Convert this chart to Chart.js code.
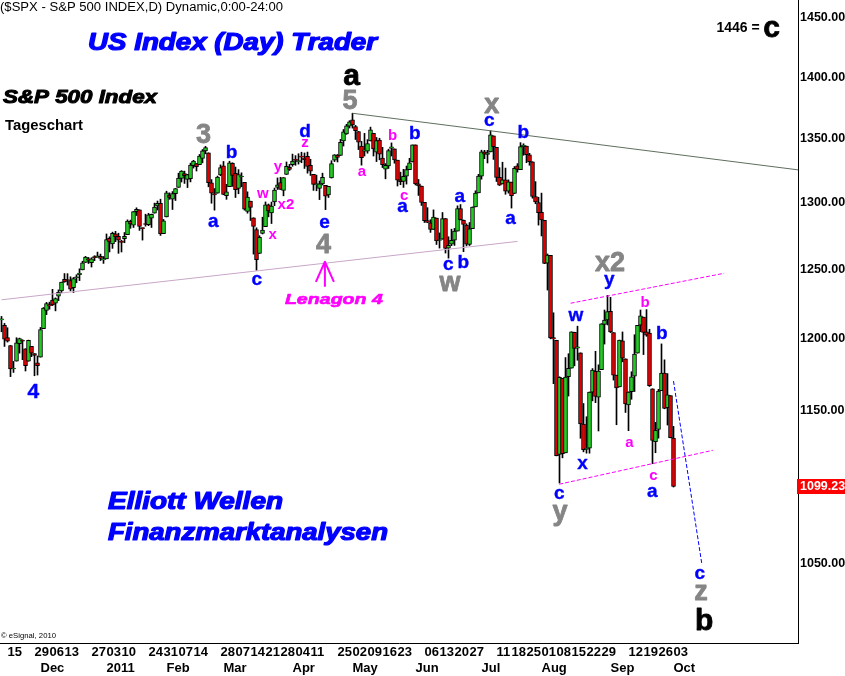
<!DOCTYPE html>
<html>
<head>
<meta charset="utf-8">
<title>S&amp;P 500 Index - Elliott Wellen</title>
<script src="https://cdn.jsdelivr.net/npm/chart.js@4.4.1/dist/chart.umd.min.js"></script>
<style>
  html, body { margin: 0; padding: 0; background: #ffffff; }
  canvas { display: block; }
</style>
</head>
<body>
<canvas id="chart" width="845" height="676"></canvas>
<script>
// S&P 500 daily candles, one entry per trading day (11 Nov 2010 - 3 Oct 2011)
const opens = [
  1213.0,1209.1,1200.4,1194.8,1178.3,1183.8,1196.1,1198.1,1192.5,1183.7,1194.2,1189.1,1182.6,
  1186.6,1206.8,1219.9,1223.9,1227.3,1225.0,1230.1,1233.9,1242.5,1241.8,1241.6,1236.3,1243.6,1245.8,1249.4,1254.9,1257.5,1254.7,1259.1,1258.8,1259.4,1256.8,
  1257.6,1272.9,1268.8,1276.3,1274.4,1270.8,1272.6,1275.7,1285.8,1282.9,1293.2,1294.5,1280.9,1283.6,1283.3,1288.2,1292.0,1297.5,1299.6,1276.5,
  1289.1,1305.9,1302.8,1307.0,1311.9,1318.8,1322.5,1318.1,1318.7,1328.7,1330.4,1329.5,1334.4,1340.4,1338.9,1315.4,1307.1,1307.3,1321.6,
  1328.6,1305.5,1312.4,1330.7,1322.7,1311.1,1319.9,1315.7,1293.4,1301.2,1288.5,1279.5,1261.6,1276.7,1281.7,1298.3,1292.2,1300.6,1311.8,1315.5,1309.4,1321.9,1327.4,
  1329.5,1333.6,1332.0,1335.9,1334.8,1336.2,1329.0,1322.0,1314.0,1311.1,1314.5,1313.4,1306.0,1319.1,1333.2,1337.1,1336.8,1348.4,1353.9,1360.1,
  1365.2,1359.8,1355.9,1344.2,1340.2,1340.2,1348.3,1354.5,1339.4,1349.0,1334.8,1326.1,1328.5,1342.4,1342.0,1333.1,1317.7,1316.4,1320.6,1325.7,1331.7,
  1345.2,1314.6,1312.9,1300.3,1286.3,1284.6,1279.6,1288.3,1271.3,1272.2,1287.9,1265.5,1268.6,1271.5,1278.4,1295.5,1286.6,1283.0,1268.4,1280.2,1296.8,1307.6,
  1320.6,1339.6,1337.6,1339.6,1352.4,1343.3,1319.6,1314.5,1317.7,1308.9,1315.9,1307.1,1328.7,1325.7,1343.8,1344.3,1337.4,1331.9,1304.8,1300.1,
  1292.6,1286.6,1254.3,1260.2,1200.3,1198.5,1120.2,1171.8,1121.3,1172.9,1178.9,1204.2,1192.9,1189.6,1140.5,1123.6,1124.4,1162.2,1176.7,1158.9,1177.9,1209.8,1213.0,
  1219.1,1203.9,1174.0,1165.9,1198.0,1185.4,1153.5,1162.6,1173.3,1189.4,1209.2,1215.0,1204.5,1203.6,1164.6,1128.8,1136.9,1163.3,1175.4,1151.7,1159.9,
  1131.2
];
const highs = [
  1215.5,1210.5,1207.4,1194.8,1183.6,1200.3,1200.0,1198.9,1192.5,1198.6,1194.2,1189.1,1187.4,
  1207.6,1221.9,1225.6,1225.8,1235.1,1228.9,1234.7,1240.4,1246.7,1246.6,1244.3,1243.8,1245.8,1250.2,1255.8,1259.4,1258.6,1258.4,1259.9,1262.6,1261.1,1259.3,
  1276.2,1274.1,1277.6,1278.2,1276.8,1271.5,1277.3,1286.9,1286.7,1293.2,1296.1,1294.6,1280.9,1291.2,1291.9,1291.3,1299.7,1301.3,1302.7,1287.2,
  1308.9,1307.6,1308.6,1311.0,1322.9,1324.9,1324.5,1322.0,1330.8,1333.0,1330.4,1337.6,1341.5,1344.1,1338.9,1317.9,1310.9,1320.6,1329.4,
  1332.1,1314.2,1332.3,1331.1,1327.7,1325.7,1323.2,1315.7,1308.4,1301.2,1288.5,1280.9,1274.9,1288.9,1300.6,1299.0,1300.5,1311.3,1319.2,1319.7,1319.4,1331.7,1329.8,
  1337.9,1336.7,1338.2,1339.4,1338.8,1339.5,1333.8,1322.0,1321.4,1316.8,1322.9,1313.4,1312.7,1332.7,1337.5,1337.6,1349.6,1357.5,1361.7,1364.6,
  1370.6,1360.8,1355.9,1348.0,1354.4,1349.4,1359.4,1354.5,1351.1,1350.5,1343.3,1330.4,1341.8,1346.8,1342.0,1333.1,1323.7,1325.9,1328.5,1334.6,1345.2,
  1345.2,1318.0,1312.9,1300.3,1296.2,1287.0,1294.5,1288.3,1277.0,1292.5,1287.9,1274.1,1279.8,1280.4,1297.6,1298.6,1286.8,1283.9,1284.9,1296.8,1309.2,1322.0,
  1341.0,1340.9,1340.9,1356.5,1352.4,1343.3,1327.2,1331.5,1326.9,1317.7,1315.9,1328.1,1330.4,1347.0,1346.1,1344.3,1338.5,1331.9,1316.3,1304.2,
  1307.4,1286.6,1261.2,1260.2,1218.1,1198.5,1172.9,1171.8,1186.3,1189.0,1204.5,1204.2,1208.5,1189.6,1154.5,1145.5,1162.4,1178.6,1190.7,1181.2,1210.3,1220.1,1230.7,
  1229.3,1203.9,1174.0,1198.6,1204.4,1185.4,1162.5,1176.4,1202.4,1209.1,1220.1,1215.0,1220.4,1206.3,1164.6,1141.7,1164.2,1195.9,1184.7,1175.1,1159.9,
  1139.0
];
const lows = [
  1204.5,1194.1,1197.2,1173.0,1175.9,1183.8,1189.4,1184.8,1176.9,1183.7,1186.9,1173.6,1174.1,
  1186.6,1206.8,1216.8,1220.7,1223.3,1219.5,1226.9,1232.6,1240.3,1238.2,1234.0,1232.8,1239.9,1241.5,1249.4,1254.9,1254.1,1251.5,1256.2,1258.8,1256.3,1254.2,
  1257.6,1262.7,1265.4,1270.4,1261.7,1262.7,1269.6,1275.7,1280.5,1281.1,1290.2,1278.9,1271.6,1282.1,1282.5,1281.1,1292.0,1294.4,1275.1,1276.5,
  1289.1,1302.6,1294.8,1301.7,1311.9,1316.0,1314.9,1311.7,1316.1,1326.9,1324.6,1329.5,1331.0,1338.1,1312.3,1299.6,1294.3,1307.3,1320.9,
  1306.1,1302.6,1312.4,1312.6,1304.0,1306.9,1312.3,1294.3,1292.0,1286.4,1261.1,1249.1,1261.6,1276.2,1281.7,1289.2,1284.1,1297.7,1310.2,1310.2,1305.3,1321.9,1325.0,
  1328.3,1329.1,1330.0,1331.1,1326.6,1322.9,1321.1,1309.5,1309.2,1302.4,1313.7,1294.7,1304.0,1319.1,1332.0,1331.7,1336.8,1344.3,1353.6,1358.7,
  1358.6,1349.5,1341.5,1329.2,1336.4,1338.6,1348.3,1336.4,1332.0,1333.4,1327.3,1318.5,1326.6,1336.4,1330.7,1312.9,1313.9,1311.8,1314.4,1325.7,1331.7,
  1313.7,1305.6,1297.9,1284.9,1284.7,1277.4,1279.6,1268.3,1265.6,1272.2,1261.9,1258.1,1267.4,1267.6,1278.4,1286.8,1262.9,1267.2,1267.5,1280.2,1296.8,1307.6,
  1318.2,1334.3,1330.9,1339.6,1333.7,1316.4,1313.3,1314.5,1306.5,1307.4,1295.9,1307.1,1323.7,1325.7,1337.0,1331.1,1329.1,1303.5,1299.2,1282.9,
  1274.7,1254.0,1234.6,1199.5,1168.1,1119.3,1101.5,1118.0,1121.3,1159.6,1178.9,1180.5,1184.4,1131.0,1122.0,1121.1,1121.1,1156.3,1155.1,1135.9,1177.9,1195.8,1209.4,
  1203.9,1170.6,1140.1,1165.9,1183.3,1148.4,1136.1,1157.4,1162.7,1189.4,1204.5,1188.4,1201.3,1166.2,1114.2,1121.4,1131.1,1163.3,1150.9,1139.9,1131.3,
  1098.9
];
const closes = [
  1213.5,1199.2,1197.8,1178.3,1178.6,1196.7,1199.7,1197.8,1180.7,1198.4,1189.4,1187.8,1180.6,
  1206.1,1221.5,1224.7,1223.1,1223.8,1228.3,1233.0,1240.4,1240.5,1241.6,1235.2,1242.9,1243.9,1247.1,1254.6,1258.8,1256.8,1257.5,1258.5,1259.8,1257.9,1257.6,
  1271.9,1270.2,1276.6,1273.9,1271.5,1269.8,1274.5,1286.0,1283.8,1293.2,1295.0,1281.9,1280.3,1283.4,1290.8,1291.2,1296.6,1299.5,1276.3,1286.1,
  1307.6,1304.0,1307.1,1310.9,1319.1,1324.6,1320.9,1321.9,1329.2,1332.3,1328.0,1336.3,1340.4,1343.0,1315.4,1307.4,1306.1,1319.9,1327.2,
  1306.3,1308.4,1331.0,1321.2,1310.1,1321.8,1320.0,1295.1,1304.3,1296.4,1281.9,1256.9,1273.7,1279.2,1298.4,1293.8,1297.5,1309.7,1313.8,1310.2,1319.4,1328.3,1325.8,
  1332.4,1332.9,1332.6,1335.5,1333.5,1328.2,1324.5,1314.2,1314.4,1314.5,1319.7,1305.1,1312.6,1330.4,1337.4,1335.3,1347.2,1355.7,1360.5,1363.6,
  1361.2,1356.6,1347.3,1335.1,1340.2,1346.3,1357.2,1342.1,1348.7,1337.8,1329.5,1329.0,1340.7,1343.6,1333.3,1317.4,1316.3,1320.5,1325.7,1331.1,1345.2,
  1314.6,1312.9,1300.2,1286.2,1284.9,1279.6,1289.0,1271.0,1271.8,1287.9,1265.4,1267.6,1271.5,1278.4,1295.5,1287.1,1283.5,1268.5,1280.1,1296.7,1307.4,1320.6,
  1339.7,1337.9,1339.2,1353.2,1343.8,1319.5,1313.6,1317.7,1308.9,1316.1,1305.4,1326.7,1325.8,1343.8,1345.0,1337.4,1331.9,1304.9,1300.7,1292.3,
  1286.9,1254.1,1260.3,1200.1,1199.4,1119.5,1172.5,1120.8,1172.6,1178.8,1204.5,1192.8,1193.9,1140.6,1123.5,1123.8,1162.4,1177.6,1159.3,1176.8,1210.1,1212.9,1218.9,
  1204.4,1174.0,1165.2,1198.6,1185.9,1154.2,1162.3,1172.9,1188.7,1209.1,1216.0,1204.1,1202.1,1166.8,1129.6,1136.4,1163.0,1175.4,1151.1,1160.4,1131.4,
  1099.23
];

// x axis: trading-day index of the weekly and monthly labels
const weekTicks = [
  [2,'15'],[11,'29'],[16,'06'],[21,'13'],[30,'27'],[35,'03'],[40,'10'],[49,'24'],[54,'31'],[59,'07'],[64,'14'],
  [73,'28'],[78,'07'],[83,'14'],[88,'21'],[93,'28'],[98,'04'],[103,'11'],[112,'25'],[117,'02'],[122,'09'],[127,'16'],[132,'23'],
  [141,'06'],[146,'13'],[151,'20'],[156,'27'],[165,'11'],[170,'18'],[175,'25'],[180,'01'],[185,'08'],[190,'15'],[195,'22'],[200,'29'],
  [209,'12'],[214,'19'],[219,'26'],[224,'03']
];
const monthTicks = [
  [13,'Dec'],[35,'2011'],[55,'Feb'],[74,'Mar'],[97,'Apr'],[117,'May'],[138,'Jun'],[160,'Jul'],[180,'Aug'],[203,'Sep'],[224,'Oct']
];
const priceTicks = [1050, 1150, 1200, 1250, 1300, 1350, 1400, 1450];
const totalSlots = 266;   // visible trading-day slots incl. empty space on the right

// trend lines: [day index, price]
const upperTrend = [[117, 1370.6], [265.5, 1325.5]];
const lowerTrend = [[0, 1227.5], [172, 1270.6]];
const channelTop = [[189.7, 1225.0], [240.9, 1246.9]];
const channelBottom = [[185.9, 1100.7], [237.1, 1123.0]];
const targetLine = [[224, 1169.9], [233.5, 1049.4]];

// Elliott wave labels: [text, day index, price]
const blackLabels = [['a', 116.7, 1400.5], ['b', 234.2, 1016.7], ['c', 256.7, 1440.3]];
const grayLabels = [
  ['5', 116.2, 1381.4], ['3', 67.3, 1354.4], ['4', 107.3, 1269.1], ['x', 163.4, 1376.5],
  ['w', 149.5, 1239.5], ['x2', 202.8, 1255.4], ['y', 186.2, 1080.8], ['z', 233.2, 1032.2]
];
const blueLabels = [
  ['b', 76.7, 1339.8], ['a', 70.6, 1285.4], ['d', 101.2, 1356.5], ['c', 85.1, 1241.9], ['e', 107.7, 1284.2],
  ['b', 137.8, 1354.9], ['a', 133.7, 1296.4], ['c', 162.6, 1364.6], ['b', 173.9, 1355.5], ['a', 152.8, 1304.6],
  ['a', 169.7, 1287.3], ['c', 148.9, 1253.0], ['b', 153.9, 1255.4], ['y', 202.6, 1240.6], ['w', 191.5, 1215.7],
  ['b', 220.1, 1203.8], ['x', 193.7, 1113.8], ['a', 216.9, 1095.4], ['c', 185.9, 1094.3], ['c', 232.8, 1043.7]
];
const blueBigLabels = [['4', 10.6, 1163.2]];
const magentaLabels = [
  ['z', 101.2, 1346.4], ['y', 92.1, 1326.7], ['w', 87.1, 1306.4], ['x2', 94.8, 1298.7], ['x', 90.4, 1275.4],
  ['a', 120.1, 1324.0], ['b', 130.4, 1353.1], ['c', 134.2, 1305.1], ['b', 214.5, 1226.0], ['a', 209.3, 1128.0],
  ['c', 217.3, 1106.2]
];
const noteLabels = [['1446 =', 245.5, 1442.0]];
const lenagon = { text: 'Lenagon 4', day: 110.8, price: 1227.3, tip: 1255.4, foot: 1237.0, head: 1240.6, day0: 107.8, spread: 3 };

const FONT = '"Liberation Sans", Arial, Helvetica, sans-serif';
const UP = '#22cc22';
const DOWN = '#e00000';

function pairs(list) {
  return list.map(p => ({ x: p[0], y: p[1] }));
}

function trend(list, color, dash) {
  return {
    type: 'line',
    data: pairs(list),
    borderColor: color,
    borderWidth: 1,
    borderDash: dash,
    pointRadius: 0,
    tension: 0,
    fill: false,
    order: 0
  };
}

// centre a text on a point using the glyph's own bounds
function drawCentered(ctx, text, x, y, weight) {
  const m = ctx.measureText(text);
  ctx.textAlign = 'center';
  ctx.textBaseline = 'alphabetic';
  const by = y + (m.actualBoundingBoxAscent - m.actualBoundingBoxDescent) / 2;
  ctx.fillText(text, x, by);
  if (weight) {
    ctx.lineWidth = weight;
    ctx.strokeText(text, x, by);
  }
}

// left-aligned text squeezed/stretched to a given width, optionally thickened
function drawFitted(ctx, text, x, y, font, color, width, weight) {
  ctx.save();
  ctx.font = font;
  ctx.fillStyle = color;
  ctx.strokeStyle = color;
  ctx.textAlign = 'left';
  ctx.textBaseline = 'alphabetic';
  const m = ctx.measureText(text);
  ctx.translate(x, y + (m.actualBoundingBoxAscent - m.actualBoundingBoxDescent) / 2);
  ctx.scale(width / m.width, 1);
  ctx.fillText(text, 0, 0);
  if (weight) {
    ctx.lineWidth = weight;
    ctx.lineJoin = 'round';
    ctx.strokeText(text, 0, 0);
  }
  ctx.restore();
}

const annotations = {
  id: 'annotations',
  afterDraw(chart) {
    const ctx = chart.ctx;
    const xs = chart.scales.x;
    const ys = chart.scales.y;
    const area = chart.chartArea;

    const groups = [
      [blackLabels, 'bold 30px ' + FONT, '#000000', 0.8],
      [grayLabels, 'bold 27px ' + FONT, '#858585', 0.8],
      [blueLabels, 'bold 19px ' + FONT, '#0000ff', 0.4],
      [blueBigLabels, 'bold 21px ' + FONT, '#0000ff', 0.4],
      [magentaLabels, 'bold 15px ' + FONT, '#ff00ff', 0],
      [noteLabels, 'bold 14px ' + FONT, '#000000', 0]
    ];
    ctx.save();
    ctx.lineJoin = 'round';
    groups.forEach(([list, font, color, weight]) => {
      ctx.font = font;
      ctx.fillStyle = color;
      ctx.strokeStyle = color;
      list.forEach(([text, day, price]) => {
        drawCentered(ctx, text, xs.getPixelForValue(day), ys.getPixelForValue(price), weight);
      });
    });

    // Lenagon arrow
    const ax = xs.getPixelForValue(lenagon.day0);
    const tipY = ys.getPixelForValue(lenagon.tip);
    const headY = ys.getPixelForValue(lenagon.head);
    ctx.strokeStyle = '#ff00ff';
    ctx.lineWidth = 2;
    ctx.beginPath();
    ctx.moveTo(ax, ys.getPixelForValue(lenagon.foot));
    ctx.lineTo(ax, tipY);
    ctx.moveTo(xs.getPixelForValue(lenagon.day0 - lenagon.spread), headY);
    ctx.lineTo(ax, tipY);
    ctx.lineTo(xs.getPixelForValue(lenagon.day0 + lenagon.spread), headY);
    ctx.stroke();
    ctx.restore();

    const lx = xs.getPixelForValue(lenagon.day);
    drawFitted(ctx, lenagon.text, lx - 49, ys.getPixelForValue(lenagon.price),
      'italic bold 15px ' + FONT, '#ff00ff', 98, 0.6);

    // headings
    drawFitted(ctx, '($SPX - S&P 500 INDEX,D) Dynamic,0:00-24:00', 0, 7.5, '12.5px ' + FONT, '#000000', 283);
    drawFitted(ctx, 'US Index (Day) Trader', 88, 43, 'italic bold 23px ' + FONT, '#0000ff', 289, 1.2);
    drawFitted(ctx, 'S&P 500 Index', 3, 96, 'italic bold 18.5px ' + FONT, '#000000', 154, 1.0);
    drawFitted(ctx, 'Tageschart', 5, 126, 'bold 15px ' + FONT, '#000000', 78);
    drawFitted(ctx, 'Elliott Wellen', 108, 500, 'italic bold 23px ' + FONT, '#0000ff', 175, 1.2);
    drawFitted(ctx, 'Finanzmarktanalysen', 108, 533, 'italic bold 23px ' + FONT, '#0000ff', 280, 1.2);
    drawFitted(ctx, '\u00a9 eSignal, 2010', 1, 636, '8px ' + FONT, '#000000', 55);

    // last price tag on the price axis
    const last = closes[closes.length - 1];
    const ty = ys.getPixelForValue(last);
    ctx.save();
    ctx.fillStyle = '#ff0000';
    ctx.fillRect(area.right - 1, ty - 7.5, chart.width - area.right + 1, 15);
    ctx.fillStyle = '#ffffff';
    ctx.font = 'bold 12.5px ' + FONT;
    ctx.textAlign = 'left';
    ctx.textBaseline = 'middle';
    ctx.fillText(last.toFixed(2), area.right + 2, ty + 0.5);
    ctx.restore();
  }
};

const tickText = {};
weekTicks.forEach(([i, t]) => { tickText[i] = [t, '']; });
monthTicks.forEach(([i, t]) => { tickText[i] = [(tickText[i] || [''])[0], t]; });
const tickIndex = Object.keys(tickText).map(Number).sort((a, b) => a - b);

const wicks = lows.map((l, i) => ({ x: i, y: [l, highs[i]] }));
const bodies = opens.map((o, i) => ({ x: i, y: [o, closes[i]] }));
const bodyColors = opens.map((o, i) => closes[i] >= o ? UP : DOWN);

new Chart(document.getElementById('chart'), {
  type: 'bar',
  data: {
    datasets: [
      trend(upperTrend, '#5f6f5f', []),
      trend(lowerTrend, '#c8a6c8', []),
      trend(channelTop, '#ff00ff', [4, 2]),
      trend(channelBottom, '#ff00ff', [4, 2]),
      trend(targetLine, '#0000ff', [4, 2]),
      {
        label: 'body',
        data: bodies,
        stack: 'candle',
        backgroundColor: bodyColors,
        borderColor: '#000000',
        borderWidth: 1,
        borderSkipped: false,
        barThickness: 4,
        minBarLength: 1,
        order: 1
      },
      {
        label: 'wick',
        data: wicks,
        stack: 'candle',
        backgroundColor: '#000000',
        borderWidth: 0,
        barThickness: 1,
        order: 2
      }
    ]
  },
  options: {
    responsive: false,
    animation: false,
    devicePixelRatio: 1,
    layout: { padding: 0 },
    plugins: {
      legend: { display: false },
      tooltip: { enabled: false },
      title: { display: false }
    },
    scales: {
      x: {
        type: 'linear',
        min: -0.5,
        max: totalSlots - 0.5,
        offset: false,
        bounds: 'data',
        grid: { display: false, drawTicks: false },
        border: { display: true, color: '#000000', width: 1 },
        afterBuildTicks: s => { s.ticks = tickIndex.map(v => ({ value: v })); },
        afterFit: s => { s.height = 33; s.paddingLeft = 0; s.paddingRight = 0; },
        ticks: {
          autoSkip: false,
          maxRotation: 0,
          minRotation: 0,
          align: 'start',
          padding: 1,
          color: '#000000',
          font: { family: FONT, size: 13, weight: 'bold', lineHeight: 1.25 },
          callback: v => tickText[v] || ''
        }
      },
      y: {
        type: 'logarithmic',
        position: 'right',
        min: 1002.1,
        max: 1465.5,
        bounds: 'data',
        stacked: false,
        grid: { display: false, drawTicks: false },
        border: { display: true, color: '#000000', width: 1 },
        afterBuildTicks: s => { s.ticks = priceTicks.map(v => ({ value: v })); },
        afterFit: s => { s.width = 47; s.paddingTop = 0; s.paddingBottom = 0; },
        ticks: {
          padding: 2,
          color: '#000000',
          font: { family: FONT, size: 12.5, weight: 'bold' },
          callback: v => Number(v).toFixed(2)
        }
      }
    }
  },
  plugins: [annotations]
});
</script>
</body>
</html>
